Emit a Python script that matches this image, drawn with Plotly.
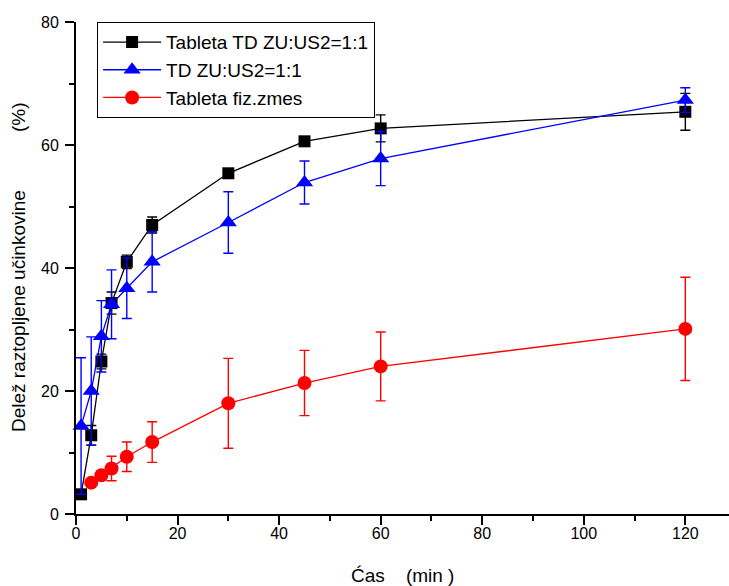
import plotly.graph_objects as go

# Sampling times (min)
t_tab_td = [1, 3, 5, 7, 10, 15, 30, 45, 60, 120]
t_td = [1, 3, 5, 7, 10, 15, 30, 45, 60, 120]
t_fiz = [3, 5, 7, 10, 15, 30, 45, 60, 120]

# Dissolved fraction (%) and standard deviations
tab_td = [3.2, 12.8, 24.8, 34.3, 41.0, 47.0, 55.4, 60.6, 62.7, 65.4]
tab_td_sd = [0.5, 1.6, 1.2, 1.8, 1.1, 1.3, 0.5, 0.5, 2.2, 3.0]

td = [14.3, 20.0, 28.9, 34.1, 36.7, 41.0, 47.4, 53.9, 57.8, 67.3]
td_sd = [11.1, 8.8, 5.8, 5.6, 4.9, 4.9, 5.0, 3.5, 4.4, 2.0]

fiz = [5.1, 6.3, 7.4, 9.3, 11.7, 18.0, 21.3, 24.0, 30.1]
fiz_sd = [0.4, 0.6, 2.0, 2.4, 3.3, 7.3, 5.3, 5.6, 8.4]

names = ["Tableta TD ZU:US2=1:1", "TD ZU:US2=1:1", "Tableta fiz.zmes"]

x_ticks = [0, 20, 40, 60, 80, 100, 120]
y_ticks = [0, 20, 40, 60, 80]

FONT = "Liberation Sans, Arial, sans-serif"
NB = "\u00a0"


def series(x, y, sd, name, color, symbol, size):
    return go.Scatter(
        x=x, y=y, name=name, mode="lines+markers",
        line=dict(color=color, width=1.3),
        marker=dict(color=color, symbol=symbol, size=size, line=dict(width=0)),
        error_y=dict(type="data", array=sd, visible=True,
                     color=color, thickness=1.4, width=5),
        cliponaxis=False,
    )


fig = go.Figure()
fig.add_trace(series(t_tab_td, tab_td, tab_td_sd, names[0], "#000000", "square", 12))
fig.add_trace(series(t_td, td, td_sd, names[1], "#0000ff", "triangle-up", 15))
fig.add_trace(series(t_fiz, fiz, fiz_sd, names[2], "#ff0000", "circle", 14))

axis_common = dict(
    showline=True, linecolor="black", linewidth=2,
    showgrid=False, zeroline=False,
    ticks="outside", ticklen=9, tickwidth=1.6, tickcolor="black",
    tickfont=dict(family=FONT, size=16, color="black"),
    minor=dict(ticks="outside", ticklen=5, tickwidth=1.6, tickcolor="black"),
)

fig.update_xaxes(
    range=[0, 128.6], tickvals=x_ticks, minor_dtick=10, minor_tick0=0,
    ticklabelstandoff=-5, **axis_common,
)
fig.update_yaxes(
    range=[0, 80], tickvals=y_ticks, minor_dtick=10, minor_tick0=0,
    ticklabelstandoff=3, **axis_common,
)

fig.update_layout(
    width=729, height=586,
    margin=dict(l=76, r=0, t=22, b=72),
    plot_bgcolor="white", paper_bgcolor="white",
    font=dict(family=FONT, color="black"),
    showlegend=True,
    legend=dict(
        x=0.032, y=1.0, xanchor="left", yanchor="top",
        bgcolor="white", bordercolor="black", borderwidth=1.2,
        font=dict(family=FONT, size=19, color="black"),
        itemwidth=58, tracegroupgap=0,
    ),
    annotations=[
        dict(text="Ćas" + NB * 4 + "(min" + NB + ")", xref="paper", yref="paper",
             x=0.5, y=0, yshift=-61, xanchor="center", yanchor="middle",
             showarrow=False, font=dict(family=FONT, size=19)),
        dict(text="Delež raztopljene učinkovine" + NB * 11 + "(%)",
             xref="paper", yref="paper", x=0, xshift=-58, y=0.5,
             xanchor="center", yanchor="middle", textangle=-90,
             showarrow=False, font=dict(family=FONT, size=19)),
    ],
)

fig.write_html("out.html")
